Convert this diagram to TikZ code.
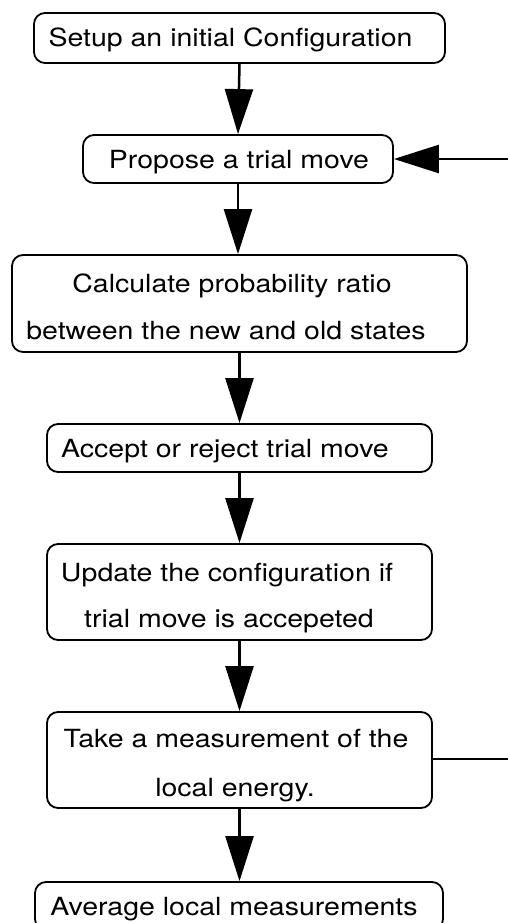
\documentclass[tikz,border=0pt]{standalone}
\usepackage{fontspec}
\setmainfont{TeX Gyre Heros}[FakeStretch=1.14]
\usetikzlibrary{arrows.meta,positioning}
\tikzset{
  flowbox/.style={draw=black, line width=1.8pt, rounded corners=11pt, inner sep=0pt},
  flowtxt/.style={anchor=base, inner sep=0pt, font=\fontsize{25pt}{30pt}\selectfont},
  flowarrow/.style={line width=2.5pt, -{Triangle[length=45pt,width=28pt]}},
  flowline/.style={line width=2.2pt}
}
\begin{document}
\begin{tikzpicture}[x=1pt,y=-1pt]
\useasboundingbox (0,0) rectangle (508,923);
% boxes
\node[flowbox, minimum width=411pt, minimum height=50pt] (b1) at (239.5,38) {};
\node[flowbox, minimum width=310pt, minimum height=48pt] (b2) at (238,159) {};
\node[flowbox, minimum width=455pt, minimum height=97pt] (b3) at (239.5,303.5) {};
\node[flowbox, minimum width=385pt, minimum height=48pt] (b4) at (239.5,448) {};
\node[flowbox, minimum width=385pt, minimum height=96pt] (b5) at (239.5,592) {};
\node[flowbox, minimum width=385pt, minimum height=96pt] (b6) at (239.5,760) {};
\node[flowbox, minimum width=408pt, minimum height=48pt] (b7) at (239,906) {};
% texts
\node[flowtxt] (t1) at (230.5,47) {Setup an initial Configuration};
\node[flowtxt] (t2) at (239,168) {Propose a trial move};
\node[flowtxt] (t3a) at (232,292) {Calculate probability ratio};
\node[flowtxt] (t3b) at (226,339) {between the new and old states};
\node[flowtxt] (t4) at (225,457) {Accept or reject trial move};
\node[flowtxt] (t5a) at (227,581) {Update the configuration if};
\node[flowtxt] (t5b) at (229,627) {trial move is accepeted};
\node[flowtxt] (t6a) at (236,747) {Take a measurement of the};
\node[flowtxt] (t6b) at (235,796) {local energy.};
\node[flowtxt] (t7) at (234,915) {Average local measurements};
% connectors
\draw[flowarrow] (b1.south) -- (b2.north);
\draw[flowarrow] (b2.south) -- (b2.south |- b3.north);
\draw[flowarrow] (b3.south) -- (b4.north);
\draw[flowarrow] (b4.south) -- (b5.north);
\draw[flowarrow] (b5.south) -- (b6.north);
\draw[flowarrow] (b6.south) -- (b6.south |- b7.north);
% feedback loop (leaves the picture on the right)
\coordinate (r1) at (508,759);
\coordinate (r2) at (508,159);
\draw[flowline] (b6.east |- r1) -- (r1);
\draw[flowarrow] (r2) -- (b2.east);
\end{tikzpicture}
\end{document}
